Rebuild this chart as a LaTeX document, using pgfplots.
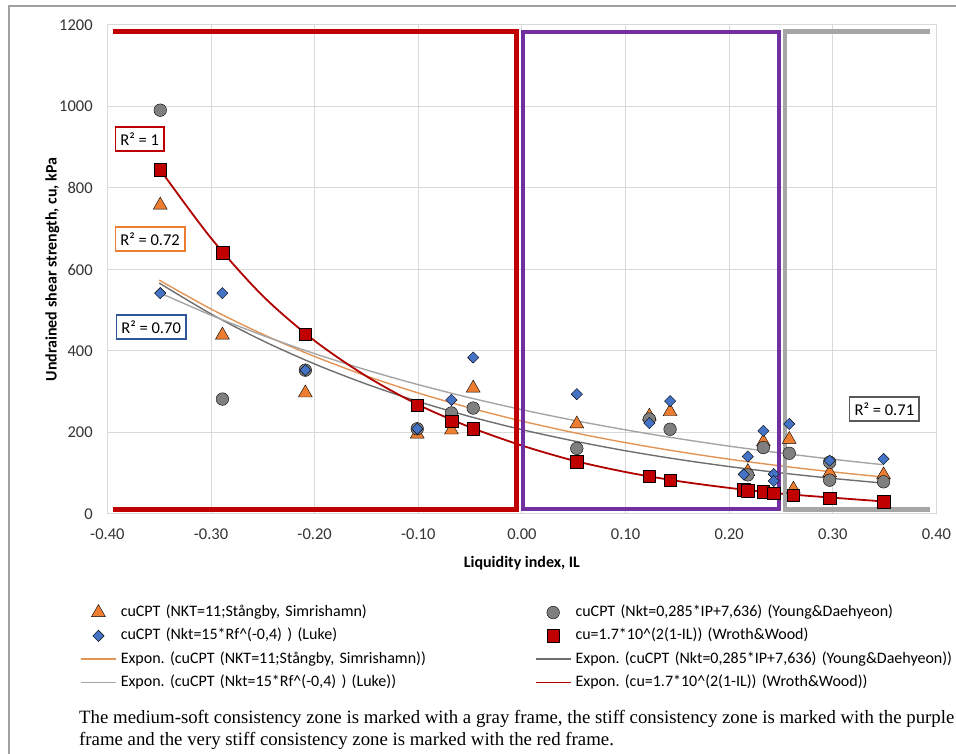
\documentclass[border=0pt]{standalone}
\usepackage{fontspec}
\setmainfont{Carlito}
\newfontfamily\capfont{Liberation Serif}
\usepackage{pgfplots}
\pgfplotsset{compat=1.18}
\definecolor{cOr}{HTML}{ED7D31}
\definecolor{cGy}{HTML}{7F7F7F}
\definecolor{cBl}{HTML}{4472C4}
\definecolor{cRd}{HTML}{C00000}
\definecolor{cPu}{HTML}{7030A0}
\definecolor{cFr}{HTML}{A6A6A6}
\definecolor{cGrid}{HTML}{D9D9D9}
\definecolor{cTrOr}{HTML}{E29455}
\definecolor{cTrDk}{HTML}{6E6E6E}
\definecolor{cTrLt}{HTML}{A5A5A5}
\definecolor{cTrRd}{HTML}{B00000}
\definecolor{cBoxBl}{HTML}{2F5597}
\definecolor{cBoxGy}{HTML}{595959}
\definecolor{cOuter}{HTML}{A0A0A0}
\pgfplotsset{
  marklegend/.style={legend image code/.code={\draw[mark repeat=2,mark phase=2,##1] plot coordinates {(0pt,0pt) (17.5pt,0pt) (35pt,0pt)};}},
  linelegend/.style={legend image code/.code={\draw[##1] (0pt,0pt) -- (35pt,0pt);}},
}
\frenchspacing
\begin{document}
\frenchspacing
\begin{tikzpicture}[x=1pt,y=1pt]
\begin{axis}[
  at={(107.4pt,240pt)}, anchor=south west,
  scale only axis, width=829pt, height=489pt,
  xmin=-0.4, xmax=0.4, ymin=0, ymax=1200,
  xtick={-0.4,-0.3,-0.2,-0.1,0,0.1,0.2,0.3,0.4},
  ytick={0,200,400,600,800,1000,1200},
  major tick length=0pt,
  grid=major,
  major grid style={draw=cGrid, line width=1pt},
  axis line style={draw=cGrid, line width=1pt},
  /pgf/number format/assume math mode=true,
  ticklabel style={font=\fontsize{16.5}{19}\selectfont, text=black!80},
  xticklabel style={/pgf/number format/.cd, fixed, fixed zerofill, precision=2, /tikz/.cd, inner sep=0pt, anchor=north, yshift=-15pt},
  yticklabel style={/pgf/number format/.cd, 1000 sep={}, /tikz/.cd, inner sep=0pt, anchor=east, xshift=-14.5pt},
  xlabel={Liquidity index, IL},
  ylabel={Undrained shear strength, cu, kPa},
  xlabel style={at={(axis description cs:0.5,-0.1002)}, anchor=center, font=\bfseries\fontsize{16}{19}\selectfont},
  ylabel style={at={(axis description cs:-0.0663,0.5)}, anchor=center, font=\bfseries\fontsize{16}{19}\selectfont},
  legend columns=2,
  legend cell align=left,
  legend style={at={(axis description cs:-0.0331,-0.1848)}, anchor=north west,
    draw=none, fill=none, inner sep=0pt, row sep=7.3pt,
    font=\fontsize{16}{19}\selectfont,
    nodes={text width=410pt, align=left, inner xsep=4pt, inner ysep=0pt, text height=12pt, text depth=4pt}},
]
% exponential trendlines (behind markers)
\addplot[cTrOr, line width=1.4pt, smooth, forget plot] coordinates {
(-0.35,574) (-0.3,503) (-0.25,441) (-0.2,386.5) (-0.15,338.7) (-0.1,296.9) (-0.05,260.2) (0,228) (0.05,199.8) (0.1,175.1) (0.15,153.5) (0.2,134.5) (0.25,117.9) (0.3,103.3) (0.348,91)};
\addplot[cTrDk, line width=1.4pt, smooth, forget plot] coordinates {
(-0.35,566.8) (-0.3,490.9) (-0.25,425.1) (-0.2,368.1) (-0.15,318.8) (-0.1,276.0) (-0.05,239.0) (0,207) (0.05,179.3) (0.1,155.2) (0.15,134.4) (0.2,116.4) (0.25,100.8) (0.3,87.3) (0.348,76.0)};
\addplot[cTrLt, line width=1.4pt, smooth, forget plot] coordinates {
(-0.35,543.3) (-0.3,487.9) (-0.25,438.2) (-0.2,393.5) (-0.15,353.4) (-0.1,317.4) (-0.05,285.1) (0,256) (0.05,229.9) (0.1,206.5) (0.15,185.4) (0.2,166.5) (0.25,149.6) (0.3,134.3) (0.348,121.1)};
\addplot[cTrRd, line width=1.8pt, smooth, forget plot] coordinates {
(-0.35,848) (-0.3,677) (-0.25,535) (-0.2,425) (-0.15,338) (-0.1,268) (-0.05,213) (0,168) (0.05,131) (0.1,103) (0.15,81) (0.2,64) (0.25,50) (0.3,40) (0.348,31)};
% markers
\addplot[only marks, mark=triangle*, mark size=8pt, mark options={draw=none, fill=cOr}, marklegend] coordinates {
(-0.349,758) (-0.289,439) (-0.209,297) (-0.101,196) (-0.068,206) (-0.047,309) (0.053,221) (0.123,240) (0.143,251) (0.218,104) (0.233,177) (0.258,183) (0.262,61) (0.297,101) (0.349,96)};
\addlegendentry{cuCPT (NKT=11;Stångby, Simrishamn)}
\addplot[only marks, mark=*, mark size=6.3pt, mark options={draw=none, fill=cGy}, marklegend] coordinates {
(-0.349,991) (-0.289,282) (-0.209,353) (-0.101,209) (-0.068,248) (-0.047,260) (0.053,161) (0.123,233) (0.143,208) (0.218,96) (0.233,163) (0.258,149) (0.297,127) (0.297,83) (0.349,79)};
\addlegendentry{cuCPT (Nkt=0,285*IP+7,636) (Young\&Daehyeon)}
\addplot[only marks, mark=square*, mark size=4pt, mark options={draw=none, fill=cBl, rotate=45}, marklegend] coordinates {
(-0.349,542) (-0.289,542) (-0.209,353) (-0.101,209) (-0.068,280) (-0.047,384) (0.053,294) (0.123,223) (0.143,277) (0.214,97) (0.218,141) (0.233,204) (0.243,98) (0.243,81) (0.258,221) (0.297,131) (0.349,135)};
\addlegendentry{cuCPT (Nkt=15*Rf\textasciicircum(-0,4) ) (Luke)}
\addplot[only marks, mark=square*, mark size=6.3pt, mark options={draw=none, fill=cRd}, marklegend] coordinates {
(-0.349,845) (-0.289,641) (-0.209,441) (-0.101,267) (-0.068,228) (-0.047,209) (0.053,129) (0.123,93) (0.143,83) (0.214,59) (0.218,57) (0.233,55) (0.243,51) (0.262,46) (0.297,39) (0.349,30)};
\addlegendentry{cu=1.7*10\textasciicircum(2(1-IL)) (Wroth\&Wood)}
\addlegendimage{cTrOr, line width=1.6pt, linelegend}
\addlegendentry{Expon. (cuCPT (NKT=11;Stångby, Simrishamn))}
\addlegendimage{cTrDk, line width=1.6pt, linelegend}
\addlegendentry{Expon. (cuCPT (Nkt=0,285*IP+7,636) (Young\&Daehyeon))}
\addlegendimage{cTrLt, line width=1.6pt, linelegend}
\addlegendentry{Expon. (cuCPT (Nkt=15*Rf\textasciicircum(-0,4) ) (Luke))}
\addlegendimage{cTrRd, line width=1.8pt, linelegend}
\addlegendentry{Expon. (cu=1.7*10\textasciicircum(2(1-IL)) (Wroth\&Wood))}
% consistency frames
\addplot[cRd, line width=4.8pt, forget plot] coordinates {(-0.395,1185) (-0.0055,1185) (-0.0055,12) (-0.395,12)};
\addplot[cPu, line width=4pt, forget plot] coordinates {(0.0013,12) (0.2484,12) (0.2484,1184) (0.0013,1184)} -- cycle;
\addplot[cFr, line width=4.8pt, forget plot] coordinates {(0.394,1184) (0.2539,1184) (0.2539,12) (0.394,12)};
% R^2 labels
\node[draw=cRd, line width=1.5pt, fill=white, anchor=west, inner xsep=5pt, minimum height=24pt, font=\fontsize{16.5}{19}\selectfont] at (axis cs:-0.393,920) {R² = 1};
\node[draw=cOr, line width=1.5pt, fill=white, anchor=west, inner xsep=5pt, minimum height=24pt, font=\fontsize{16.5}{19}\selectfont] at (axis cs:-0.393,675) {R² = 0.72};
\node[draw=cBoxBl, line width=1.5pt, fill=white, anchor=west, inner xsep=5pt, minimum height=24pt, font=\fontsize{16.5}{19}\selectfont] at (axis cs:-0.392,459) {R² = 0.70};
\node[draw=cBoxGy, line width=1.5pt, fill=white, anchor=west, inner xsep=5pt, minimum height=24pt, font=\fontsize{16.5}{19}\selectfont] at (axis cs:0.3156,258) {R² = 0.71};
\end{axis}
\draw[cOuter, line width=1.3pt] (9pt,0pt) -- (9pt,748pt) -- (956pt,748pt);
\node[anchor=base west, inner sep=0pt, font=\capfont\fontsize{18.8}{21}\selectfont] at (79pt,30pt) {The medium-soft consistency zone is marked with a gray frame, the stiff consistency zone is marked with the purple};
\node[anchor=base west, inner sep=0pt, font=\capfont\fontsize{18.8}{21}\selectfont] at (79pt,8pt) {frame and the very stiff consistency zone is marked with the red frame.};
\pgfresetboundingbox
\path[use as bounding box] (0pt,0pt) rectangle (956pt,754pt);
\end{tikzpicture}
\end{document}
